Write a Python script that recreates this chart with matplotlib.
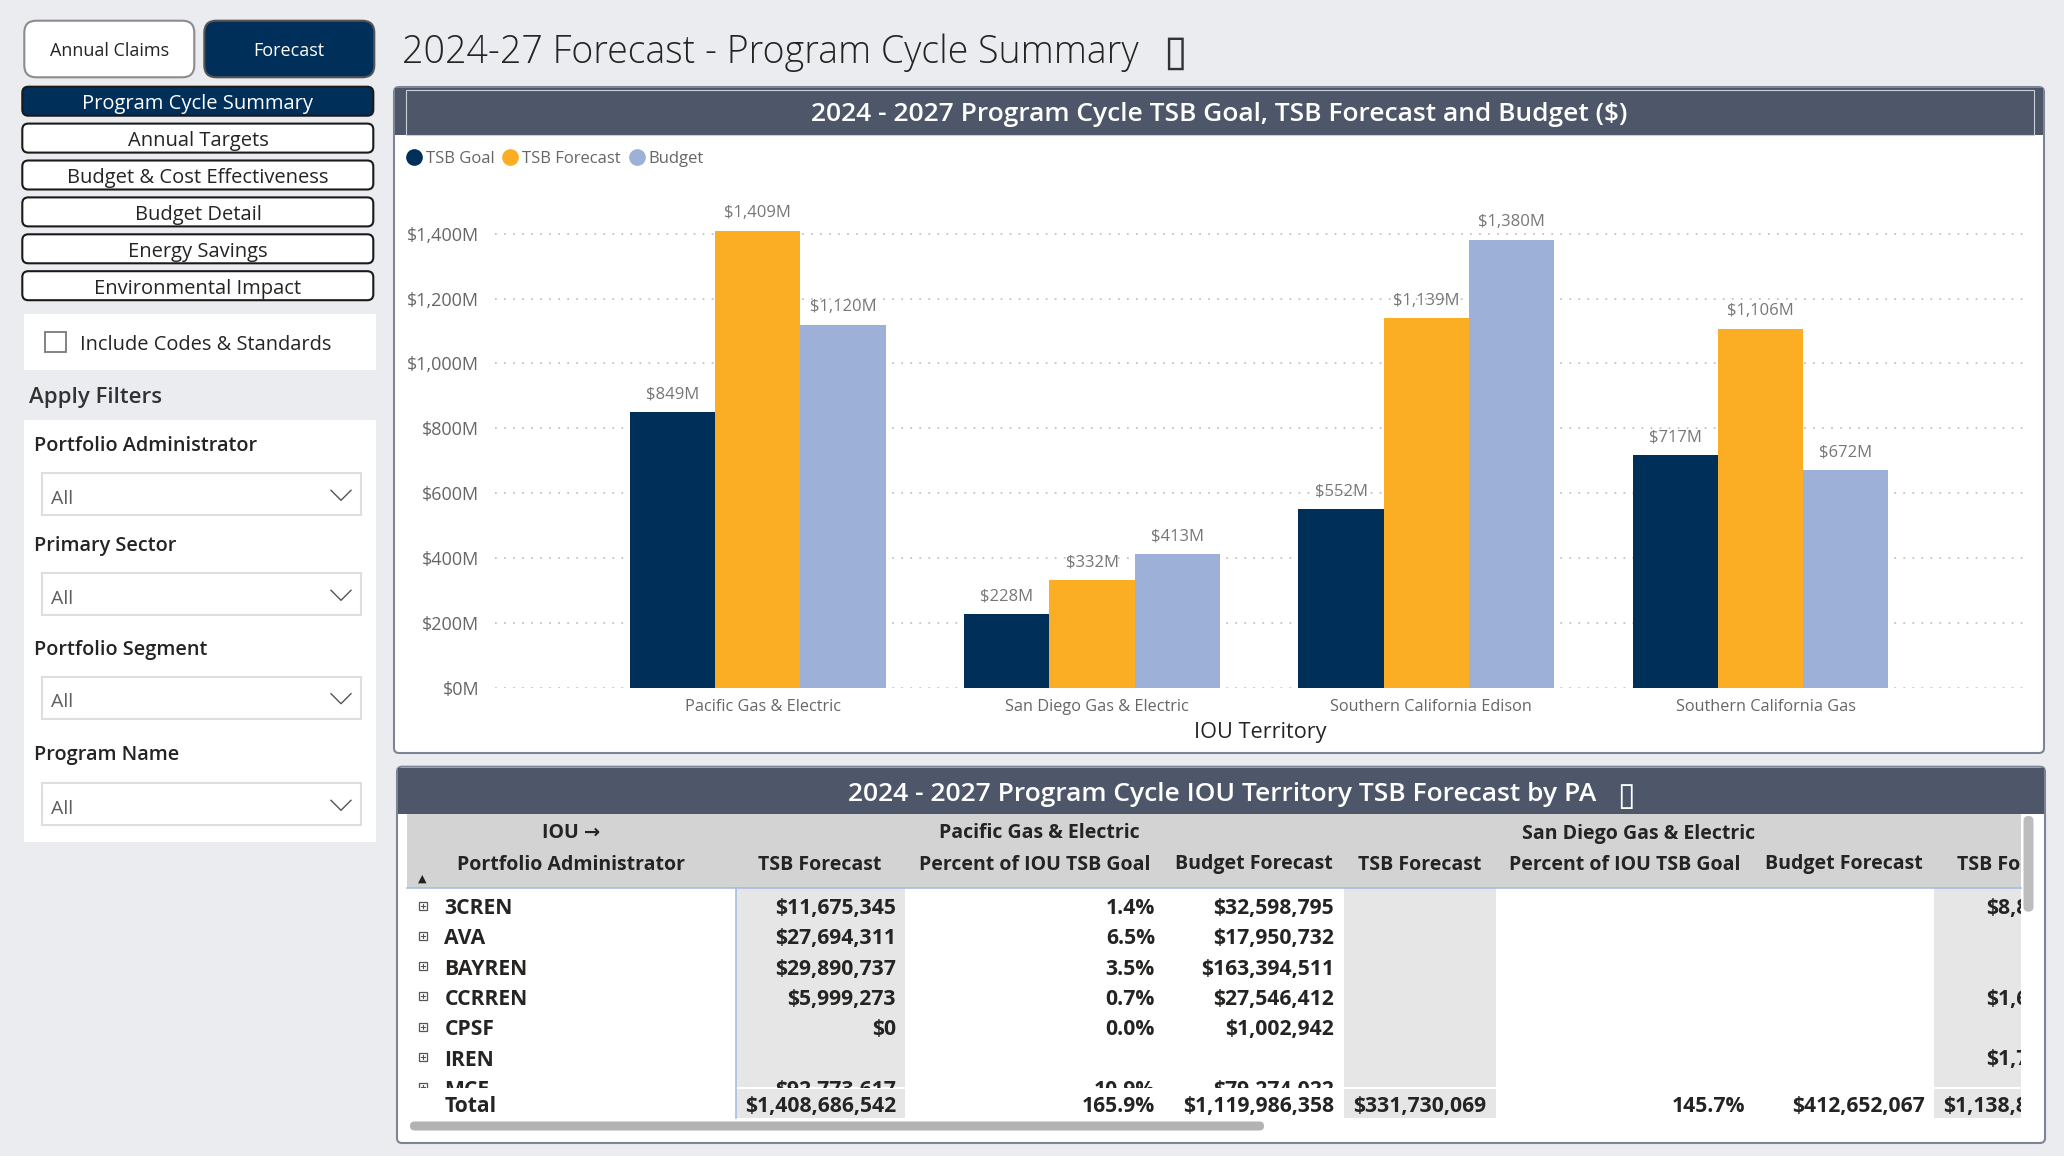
import numpy as np
import matplotlib
matplotlib.use("Agg")
import matplotlib.pyplot as plt
from matplotlib.patches import FancyBboxPatch, Rectangle
from matplotlib.lines import Line2D
from matplotlib.ticker import FuncFormatter
from matplotlib.transforms import ScaledTranslation

plt.rcParams['font.family'] = ['Open Sans', 'DejaVu Sans']

# bar chart data, in $M
territories = ['Pacific Gas & Electric', 'San Diego Gas & Electric',
               'Southern California Edison', 'Southern California Gas']
tsb_goal = [849, 228, 552, 717]
tsb_forecast = [1409, 332, 1139, 1106]
budget = [1120, 413, 1380, 672]
series_names = ['TSB Goal', 'TSB Forecast', 'Budget']
series_colors = ['#002f5a', '#fbad24', '#9db0d7']
y_ticks = [0, 200, 400, 600, 800, 1000, 1200, 1400]

# table data (rows visible in the scrolled matrix)
pa_names = ['3CREN', 'AVA', 'BAYREN', 'CCRREN', 'CPSF', 'IREN', 'MCE']
pge_tsb = ['$11,675,345', '$27,694,311', '$29,890,737', '$5,999,273', '$0', '', '$92,773,617']
pge_pct = ['1.4%', '6.5%', '3.5%', '0.7%', '0.0%', '', '10.9%']
pge_budget = ['$32,598,795', '$17,950,732', '$163,394,511', '$27,546,412', '$1,002,942', '', '$79,274,022']
sce_tsb_cut = ['$8,8', '', '', '$1,6', '', '$1,7', '']
total_row = ['$1,408,686,542', '165.9%', '$1,119,986,358', '$331,730,069', '145.7%', '$412,652,067']
total_sce_cut = '$1,138,8'
group_headers = ['Pacific Gas & Electric', 'San Diego Gas & Electric']
sub_headers = ['TSB Forecast', 'Percent of IOU TSB Goal', 'Budget Forecast',
               'TSB Forecast', 'Percent of IOU TSB Goal', 'Budget Forecast', 'TSB Forecast']

# sidebar
nav_pages = ['Program Cycle Summary', 'Annual Targets', 'Budget & Cost Effectiveness',
             'Budget Detail', 'Energy Savings', 'Environmental Impact']
filter_names = ['Portfolio Administrator', 'Primary Sector', 'Portfolio Segment', 'Program Name']

NAVY = '#002f5a'
SLATE = '#4d5769'
DARK = '#252423'
DY = 2.5  # va='center' sits a little high, push text down

fig = plt.figure(figsize=(20.64, 11.56), dpi=100, facecolor='#eaecf0')
bg = fig.add_axes([0, 0, 1, 1])
bg.set_xlim(0, 2064)
bg.set_ylim(1156, 0)
bg.axis('off')


def box(x0, y0, x1, y1, fc, ec='none', lw=1.0, r=0, z=1):
    style = 'round,pad=0,rounding_size=%s' % r if r else 'square,pad=0'
    p = FancyBboxPatch((x0, y0), x1 - x0, y1 - y0, boxstyle=style,
                       fc=fc, ec=ec, lw=lw, zorder=z)
    bg.add_patch(p)
    return p


# ---- left sidebar
box(24.3, 20.7, 194.3, 77.3, 'white', '#8c8c8c', 1.5, 12)
bg.text(109.3, 49 + DY, 'Annual Claims', ha='center', va='center', fontsize=13, color=DARK)
box(204.3, 20.7, 374.3, 77.3, NAVY, '#555555', 1.5, 12)
bg.text(289.3, 49 + DY, 'Forecast', ha='center', va='center', fontsize=13, color='white')

for i, name in enumerate(nav_pages):
    top = 86.7 + i * 36.9
    active = i == 0
    box(22.3, top, 373.3, top + 29, NAVY if active else 'white', '#1a1a1a', 1.5, 6)
    bg.text(198, top + 15 + DY, name, ha='center', va='center', fontsize=14.5,
            color='white' if active else DARK)

box(24, 314, 376, 370, 'white')
box(45, 331.7, 65.7, 351.7, 'white', '#7a7a7a', 1.3)
bg.text(80, 342 + DY, 'Include Codes & Standards', ha='left', va='center', fontsize=14.4, color=DARK)
bg.text(29, 395 + DY, 'Apply Filters', ha='left', va='center', fontsize=16, fontweight='semibold',
        color='#333333')

box(24, 420, 376, 842, 'white')
label_y = [443.3, 543.3, 647.3, 752.7]
drop_top = [473.3, 573.3, 676.7, 783.3]
for name, ly, dt in zip(filter_names, label_y, drop_top):
    bg.text(34, ly + DY, name, ha='left', va='center', fontsize=14.3, fontweight='semibold', color=DARK)
    box(41.7, dt, 360.7, dt + 42, 'white', '#dedede', 1.5)
    bg.text(51, dt + 23 + DY, 'All', ha='left', va='center', fontsize=14, color='#605e5c')
    bg.plot([331, 341, 351], [dt + 17, dt + 27, dt + 17], color='#555555', lw=1.0, zorder=3)

# ---- page title
bg.text(402, 63, '2024-27 Forecast - Program Cycle Summary', ha='left', va='baseline',
        fontsize=27, fontweight='light', color=DARK)
bg.text(1163, 65, '\u25af', ha='left', va='baseline', fontsize=31, color='#333333',
        family=['DejaVu Sans'])

# ---- chart panel
box(394, 87, 2044, 753, 'white', '#7d8594', 1.5, 5)
box(395, 88, 2043, 135, SLATE, z=2)
bg.add_patch(Rectangle((406, 90), 1628, 45, fill=False, ec='#c9ced6', lw=0.8, zorder=3))
bg.text(1219, 112 + DY, '2024 - 2027 Program Cycle TSB Goal, TSB Forecast and Budget ($)',
        ha='center', va='center', fontsize=19, fontweight='semibold', color='white', zorder=4)

ax = fig.add_axes([495 / 2064, 1 - 688 / 1156, (2026 - 495) / 2064, (688 - 185) / 1156])
ax.patch.set_alpha(0)
x = np.arange(len(territories))
w = 0.255
for i, (vals, name, col) in enumerate(zip([tsb_goal, tsb_forecast, budget], series_names, series_colors)):
    bars = ax.bar(x + (i - 1) * w, vals, w, color=col, label=name, zorder=3)
    ax.bar_label(bars, labels=['$%sM' % format(v, ',') for v in vals], padding=7,
                 fontsize=12, color='#777777')
ax.set_xlim(-0.786, 3.794)
ax.set_ylim(0, 1550)
ax.set_yticks(y_ticks)
ax.yaxis.set_major_formatter(FuncFormatter(lambda v, p: '$%sM' % format(int(v), ',')))
ax.set_xticks(x)
ax.set_xticklabels(territories)
ax.tick_params(axis='y', length=0, pad=11.5, labelsize=13, labelcolor='#666666')
ax.tick_params(axis='x', length=0, pad=8, labelsize=11.7, labelcolor='#666666')
shift = ScaledTranslation(5 / 100, 0, fig.dpi_scale_trans)
for lab in ax.get_xticklabels():
    lab.set_transform(lab.get_transform() + shift)
ax.set_xlabel('IOU Territory', fontsize=15.6, color=DARK, labelpad=5)
ax.yaxis.grid(True, color='#c4c4c4', linestyle=(0, (1, 4)), lw=1.3)
ax.set_axisbelow(True)
for s in ax.spines.values():
    s.set_visible(False)

handles = [Line2D([], [], marker='o', ls='', color=c, markersize=11) for c in series_colors]
ax.legend(handles, series_names, loc='center left', bbox_to_anchor=(408 / 2064, 1 - 159 / 1156),
          bbox_transform=fig.transFigure, ncol=3, frameon=False, fontsize=12, labelcolor='#666666',
          handlelength=0.7, handletextpad=0.37, columnspacing=0.6, borderpad=0, borderaxespad=0)

# ---- table panel
box(397, 766.7, 2045, 1143, 'white', '#7d8594', 1.5, 5)
box(398, 767.7, 2044, 814, SLATE, z=2)
bg.text(1222, 791.7 + DY, '2024 - 2027 Program Cycle IOU Territory TSB Forecast by PA',
        ha='center', va='center', fontsize=19, fontweight='semibold', color='white', zorder=4)
bg.text(1617, 805, '\u25af', ha='left', va='baseline', fontsize=23, color='white',
        family=['DejaVu Sans'], zorder=4)

clip = Rectangle((407, 814), 1614, 310, transform=bg.transData)
body_clip = Rectangle((407, 888), 1614, 200, transform=bg.transData)

box(407, 814, 2021, 888, '#d3d3d3')
for c0, c1 in [(735.6, 905), (1344, 1496), (1934, 2021)]:
    box(c0, 888, c1, 1118, '#e6e6e6')
    bg.plot([c0, c1], [1088, 1088], color='white', lw=1.5, zorder=2)
bg.plot([407, 2021], [888, 888], color='#a7bde3', lw=1.2, zorder=3)
bg.plot([735.6, 735.6], [888, 1118], color='#a7bde3', lw=1.2, zorder=3)

hdr = dict(fontsize=14, fontweight='bold', color=DARK, va='center', zorder=4, clip_on=True)
bg.text(571, 831 + DY, 'IOU \u2192', ha='center', **hdr)
bg.text(571, 862 + DY, 'Portfolio Administrator', ha='center', **hdr)
bg.text(1039, 831 + DY, group_headers[0], ha='center', **hdr)
bg.text(1639, 831 + DY, group_headers[1], ha='center', **hdr)
for cx, name in zip([820, 1034.5, 1254, 1420, 1625, 1844, 2019], sub_headers):
    t = bg.text(cx, 862 + DY, name, ha='center', **hdr)
    t.set_clip_path(clip)
bg.text(422.7, 879, '\u25b2', ha='center', va='center', fontsize=8, color='#222222',
        family=['DejaVu Sans'], zorder=4)

cell = dict(fontsize=15.2, fontweight='bold', color=DARK, va='center', zorder=4, clip_on=True)
for i, name in enumerate(pa_names):
    y = 906 + i * 30.3
    items = [bg.text(444.5, y + DY, name, ha='left', **cell)]
    for xr, val in zip([896, 1155, 1334], [pge_tsb[i], pge_pct[i], pge_budget[i]]):
        items.append(bg.text(xr, y + DY, val, ha='right', **cell))
    items.append(bg.text(1986.5, y + DY, sce_tsb_cut[i], ha='left', **cell))
    sq = Rectangle((419, y - 4.5), 8, 8, fill=False, ec='#555555', lw=0.9, zorder=4)
    bg.add_patch(sq)
    pl1, = bg.plot([421, 425], [y - 0.5, y - 0.5], color='#555555', lw=0.8, zorder=4)
    pl2, = bg.plot([423, 423], [y - 2.5, y + 1.5], color='#555555', lw=0.8, zorder=4)
    for it in items + [sq, pl1, pl2]:
        it.set_clip_path(body_clip)

yt = 1104.3 + DY
bg.text(444.5, yt, 'Total', ha='left', **cell)
for xr, val in zip([896, 1155, 1334, 1486.5, 1745, 1925], total_row):
    bg.text(xr, yt, val, ha='right', **cell)
t = bg.text(1943.5, yt, total_sce_cut, ha='left', **cell)
t.set_clip_path(clip)

# scrollbars
box(410, 1121.5, 1264, 1130.5, '#b3b3b3', r=4.5, z=3)
box(2023.5, 816, 2033.5, 911.7, '#bdbdbd', r=5, z=3)

fig.savefig('out.png', dpi=100, facecolor=fig.get_facecolor())
